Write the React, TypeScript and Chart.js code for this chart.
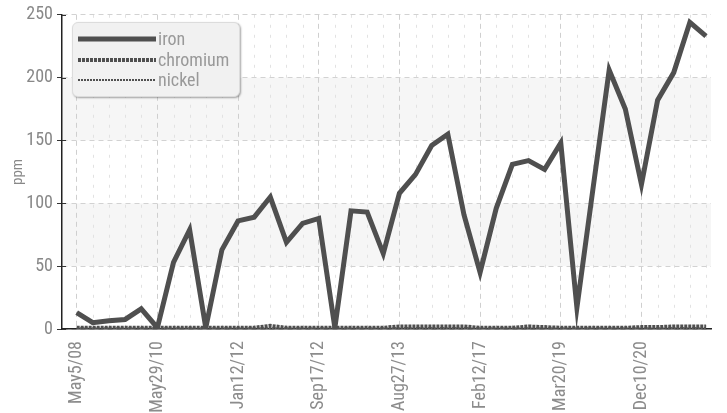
import React, { useEffect, useRef } from "react";
import { Chart, registerables } from "chart.js";
Chart.register(...registerables);

const FONT = "'Liberation Sans Narrow', 'Roboto Condensed', 'Open Sans', Roboto, sans-serif";

// tick labels shown on x axis (every 5th sample)
const tickLabels = ["May5/08", "May29/10", "Jan12/12", "Sep17/12", "Aug27/13", "Feb12/17", "Mar20/19", "Dec10/20"];
const labelEvery = 5;

const iron = [13, 5, 6.5, 7.6, 16, 1, 53, 79, 1, 63, 86, 89, 105, 69, 84, 88, 1, 94, 93, 60, 108, 123, 146, 155, 91, 45, 96, 131, 134, 127, 148, 17, 112, 206, 175, 115, 182, 204, 244, 233];
const chromium = [1, 1, 1, 1, 1, 1, 1, 1, 1, 1, 1, 1, 2.5, 1, 1, 1, 1, 1, 1, 1, 2, 2, 2, 2, 2, 1, 1, 1, 2, 1.5, 1, 1, 1, 1, 1, 1.5, 1.5, 2, 2, 2];
const nickel = [0.5, 0.5, 0.5, 0.5, 0.5, 0.5, 0.5, 0.5, 0.5, 0.5, 0.5, 0.5, 0.5, 0.5, 0.5, 0.5, 0.5, 0.5, 0.5, 0.5, 0.8, 0.8, 0.8, 0.8, 0.8, 0.5, 0.5, 0.5, 0.5, 0.5, 0.5, 0.5, 0.5, 0.5, 0.5, 0.5, 0.5, 0.8, 0.8, 0.8];

const yTicks = [0, 50, 100, 150, 200, 250];
const shadedBands = [[50, 100], [150, 200]];

const LINE = "#4f4f4f";

const bandsPlugin = {
  id: "bands",
  beforeDraw(chart: any) {
    const { ctx, chartArea, scales } = chart;
    const y = scales.y;
    const x = scales.x;
    ctx.save();
    ctx.fillStyle = "#f6f6f6";
    shadedBands.forEach(([a, b]) => {
      const top = y.getPixelForValue(b);
      const bot = y.getPixelForValue(a);
      ctx.fillRect(chartArea.left, top, chartArea.right - chartArea.left, bot - top);
    });
    // minor vertical grid lines (one per sample)
    ctx.strokeStyle = "#e2e2e2";
    ctx.lineWidth = 1;
    ctx.setLineDash([3, 7]);
    iron.forEach((_, i) => {
      if (i % labelEvery === 0) return;
      const p = Math.round(x.getPixelForValue(i)) + 0.5;
      ctx.beginPath();
      ctx.moveTo(p, chartArea.top);
      ctx.lineTo(p, chartArea.bottom);
      ctx.stroke();
    });
    ctx.restore();
  },
  afterDraw(chart: any) {
    const { ctx, chartArea, scales } = chart;
    ctx.save();
    ctx.strokeStyle = "#333";
    ctx.lineWidth = 1;
    scales.y.ticks.forEach((t: any) => {
      const p = Math.round(scales.y.getPixelForValue(t.value)) + 0.5;
      ctx.beginPath();
      ctx.moveTo(chartArea.left, p);
      ctx.lineTo(chartArea.left + 4, p);
      ctx.stroke();
    });
    ctx.restore();
  },
};

function LegendRow({ dash, width, label }: { dash: string; width: number; label: string }) {
  return (
    <div style={{ display: "flex", alignItems: "center", height: 20.5 }}>
      <svg width={80} height={8} style={{ display: "block" }}>
        <line x1={1} y1={4} x2={79} y2={4} stroke={LINE} strokeWidth={width} strokeDasharray={dash} />
      </svg>
      <span style={{ marginLeft: 1, color: "#999", fontSize: 18, fontFamily: FONT, lineHeight: "20px" }}>{label}</span>
    </div>
  );
}

export default function App() {
  const ref = useRef<HTMLCanvasElement>(null);
  useEffect(() => {
    document.body.style.margin = "0";
    const mk = (d: number[]) => d.map((y, i) => ({ x: i, y }));
    const chart = new Chart(ref.current!, {
      type: "line",
      data: {
        datasets: [
          { label: "iron", data: mk(iron), borderColor: LINE, borderWidth: 5, pointRadius: 0, tension: 0 },
          { label: "chromium", data: mk(chromium), borderColor: LINE, borderWidth: 4, borderDash: [3, 1], pointRadius: 0, tension: 0 },
          { label: "nickel", data: mk(nickel), borderColor: "#666", borderWidth: 2, borderDash: [2, 1], pointRadius: 0, tension: 0 },
        ],
      },
      options: {
        animation: false,
        responsive: false,
        devicePixelRatio: 1,
        layout: { padding: { left: 0, right: 16, top: 12, bottom: 0 } },
        plugins: { legend: { display: false }, tooltip: { enabled: false } },
        scales: {
          x: {
            type: "linear",
            min: -0.91,
            max: 39.31,
            afterBuildTicks: (s: any) => {
              s.ticks = tickLabels.map((_, k) => ({ value: k * labelEvery }));
            },
            afterFit: (s: any) => {
              s.height = 84;
            },
            ticks: {
              autoSkip: false,
              maxRotation: 90,
              minRotation: 90,
              padding: 12,
              color: "#8c8c8c",
              font: { family: FONT, size: 18 },
              callback: (v: any) => tickLabels[v / labelEvery],
            },
            grid: { color: "#cfcfcf", drawTicks: false },
            border: { display: true, color: "#222", width: 1.5, dash: [5, 4] },
          },
          y: {
            min: 0,
            max: 250,
            afterBuildTicks: (s: any) => {
              s.ticks = yTicks.map((v) => ({ value: v }));
            },
            afterFit: (s: any) => {
              s.width = 62;
            },
            title: { display: true, text: "ppm", color: "#888", font: { family: FONT, size: 15 }, padding: { top: 9, bottom: 0 } },
            ticks: { color: "#888", font: { family: FONT, size: 18 }, padding: 4 },
            grid: { color: "#d2d2d2", tickLength: 5, tickColor: "#333", tickBorderDash: [] },
            border: { display: true, color: "#222", width: 1.5, dash: [5, 4] },
          },
        },
      },
      plugins: [bandsPlugin],
    });
    return () => chart.destroy();
  }, []);
  return (
    <div style={{ position: "relative", width: 727, height: 413 }}>
      <canvas ref={ref} width={727} height={413} style={{ display: "block" }} />
      <div
        style={{
          position: "absolute",
          left: 72,
          top: 22,
          width: 168,
          height: 75,
          background: "#f1f1f1",
          border: "1px solid #dcdcdc",
          borderRadius: 6,
          boxShadow: "1px 1px 2px rgba(0,0,0,0.35)",
          padding: "6px 0 0 4px",
          boxSizing: "border-box",
        }}
      >
        <LegendRow dash="" width={5} label="iron" />
        <LegendRow dash="3 1" width={4} label="chromium" />
        <LegendRow dash="2 1" width={2} label="nickel" />
      </div>
    </div>
  );
}
